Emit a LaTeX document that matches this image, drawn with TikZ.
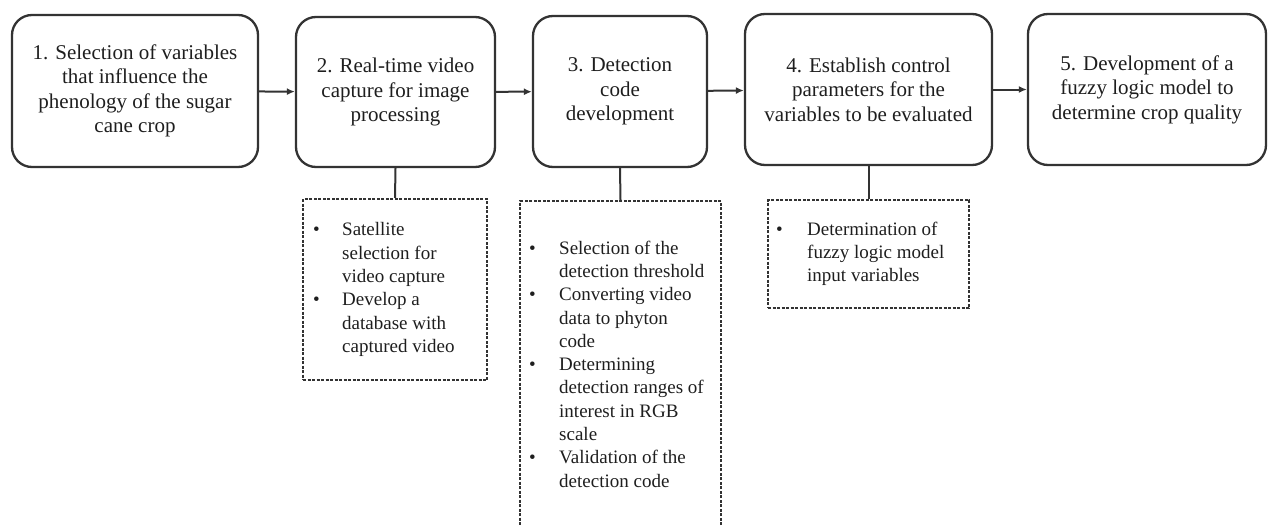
\documentclass[tikz,border=0pt]{standalone}
\usepackage{fontspec}
\setmainfont{Liberation Serif}
\usetikzlibrary{arrows.meta}
\definecolor{ink}{HTML}{1E1E1E}
\definecolor{edge}{HTML}{333333}
\newcommand{\bitem}[1]{\textbullet & #1}
\begin{document}
\begin{tikzpicture}[x=1pt,y=-1pt,
  stepbox/.style={draw=edge, line width=2.3pt, rounded corners=20pt, align=center, text=ink,
    font=\fontsize{21}{24.5}\selectfont, inner sep=0pt},
  notebox/.style={draw=edge, line width=2pt, dash pattern=on 3pt off 1.5pt, inner sep=0pt},
  notetext/.style={anchor=west, text=ink, font=\fontsize{19}{23.3}\selectfont, inner sep=0pt},
  flow/.style={draw=edge, line width=2pt, -{Latex[length=8pt,width=7pt]}},
  link/.style={draw=edge, line width=2pt}]
\useasboundingbox (0,0) rectangle (1269,525);

\node[stepbox, minimum width=246pt, minimum height=152pt] (s1) at (135,91)
  {1. Selection of variables\\that influence the\\phenology of the sugar\\cane crop};
\node[stepbox, minimum width=199pt, minimum height=150pt] (s2) at (395.5,92)
  {2. Real-time video\\capture for image\\processing};
\node[stepbox, minimum width=174pt, minimum height=151pt] (s3) at (620,91.5)
  {3. Detection\\code\\development};
\node[stepbox, minimum width=247pt, minimum height=151pt] (s4) at (868.5,89.5)
  {4. Establish control\\parameters for the\\variables to be evaluated};
\node[stepbox, minimum width=238pt, minimum height=151pt] (s5) at (1147,89.5)
  {5. Development of a\\fuzzy logic model to\\determine crop quality};

\draw[flow] (s1) -- (s2);
\draw[flow] (s2) -- (s3);
\draw[flow] (s3) -- (s4);
\draw[flow] (s4) -- (s5);

\node[notebox, minimum width=184pt, minimum height=181pt] (n2) at (395,289.5) {};
\node[notebox, minimum width=201pt, minimum height=330pt] (n3) at (620.5,366) {};
\node[notebox, minimum width=201pt, minimum height=108pt] (n4) at (868.5,254) {};

\draw[link] (s2.south) -- (n2.north);
\draw[link] (s3.south) -- (n3.north);
\draw[link] (s4.south) -- (n4.north);

\node[notetext] (t2) at ([xshift=11pt]n2.west) {\begin{tabular}{@{}p{29pt}@{}l@{}}
\bitem{Satellite}\\ & selection for\\ & video capture\\
\bitem{Develop a}\\ & database with\\ & captured video
\end{tabular}};
\node[notetext] (t3) at ([xshift=10pt]n3.west) {\begin{tabular}{@{}p{30pt}@{}l@{}}
\bitem{Selection of the}\\ & detection threshold\\
\bitem{Converting video}\\ & data to phyton\\ & code\\
\bitem{Determining}\\ & detection ranges of\\ & interest in RGB\\ & scale\\
\bitem{Validation of the}\\ & detection code
\end{tabular}};
\node[notetext] (t4) at ([xshift=9pt]n4.west) {\begin{tabular}{@{}p{31pt}@{}l@{}}
\bitem{Determination of}\\ & fuzzy logic model\\ & input variables
\end{tabular}};
\end{tikzpicture}
\end{document}
